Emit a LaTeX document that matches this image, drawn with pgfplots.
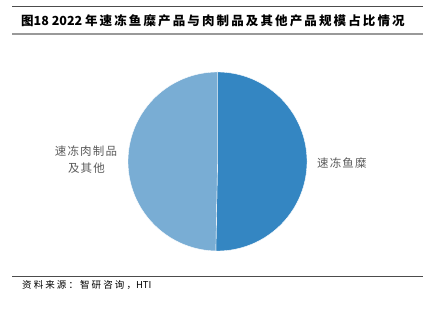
\documentclass[border=0pt]{standalone}
\usepackage{pgfplots}
\pgfplotsset{compat=1.18}
\usepackage{fontspec}
\setmainfont{Noto Sans CJK SC}
\definecolor{cA}{RGB}{52,134,194}
\definecolor{cB}{RGB}{121,173,212}
\definecolor{lbl}{RGB}{90,90,90}
\def\vA{50.3}% 速冻鱼糜
\def\vB{49.7}% 速冻肉制品及其他
\begin{document}
\begin{tikzpicture}[x=1pt,y=1pt]
\path (0,0) rectangle (433,310);
\pgfmathsetmacro{\aA}{90-3.6*\vA}
\pgfmathsetmacro{\aB}{90+3.6*\vB}
\begin{axis}[at={(217.5pt,148.5pt)}, anchor=center, width=179pt, height=179pt,
  scale only axis, hide axis, xmin=-1, xmax=1, ymin=-1, ymax=1, clip=false]
\addplot[fill=cA, draw=white, line width=0.4pt, mark=none, domain=\aA:90, samples=180, variable=\t]
  ({cos(\t)},{sin(\t)}) -- (axis cs:0,0) -- cycle;
\addplot[fill=cB, draw=white, line width=0.4pt, mark=none, domain=90:\aB, samples=180, variable=\t]
  ({cos(\t)},{sin(\t)}) -- (axis cs:0,0) -- cycle;
\end{axis}
\draw[line width=1pt, black!70] (12,303) -- (423,303);
\draw[line width=2pt, black!40] (12,275.5) -- (423,275.5);
\draw[line width=1pt, black!70] (12,33) -- (423,33);
\node[anchor=west, inner sep=0pt, font=\fontsize{12.5}{14}\selectfont\bfseries] at (21,289) {{\addfontfeatures{LetterSpace=17}图}18 2022 {\addfontfeatures{LetterSpace=17}年速冻鱼糜产品与肉制品及其他产品规模占比情况}};
\node[anchor=west, inner sep=0pt, font=\fontsize{9.5}{11}\selectfont] at (22,25) {{\addfontfeatures{LetterSpace=22}资料来源：智研咨询，}HTI};
\node[anchor=west, inner sep=0pt, text=lbl, font=\fontsize{11.5}{13}\selectfont\addfontfeatures{LetterSpace=10}] at (317,147) {速冻鱼糜};
\node[inner sep=0pt, text=lbl, font=\fontsize{11.5}{13}\selectfont\addfontfeatures{LetterSpace=10}] at (86,159) {速冻肉制品};
\node[inner sep=0pt, text=lbl, font=\fontsize{11.5}{13}\selectfont\addfontfeatures{LetterSpace=10}] at (86.5,142) {及其他};
\end{tikzpicture}
\end{document}
